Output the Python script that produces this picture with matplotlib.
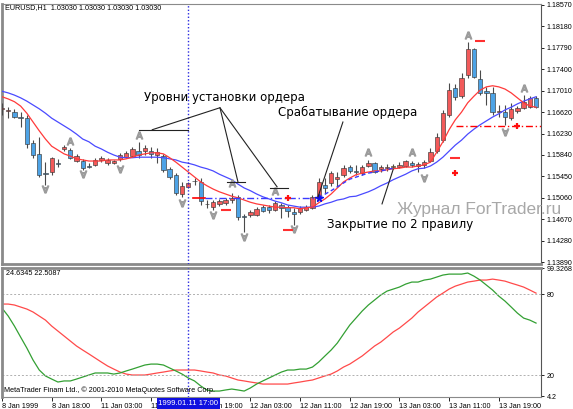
import numpy as np
import matplotlib
matplotlib.use("Agg")
import matplotlib.pyplot as plt
import matplotlib.transforms as mtransforms

# ---- EURUSD H1 bars, 8 Jan 1999 10:00 .. 14 Jan 1999 ----
opens = [1.1668, 1.1664, 1.1662, 1.1653, 1.1651, 1.1606, 1.1586, 1.1551, 1.1553, 1.1569,
         1.1595, 1.1593, 1.1573, 1.1573, 1.1564, 1.1566, 1.1575, 1.1569, 1.1569, 1.1577,
         1.1580, 1.1582, 1.1591, 1.1591, 1.1591, 1.1584, 1.1582, 1.1559, 1.1548, 1.1513,
         1.1526, 1.1537, 1.1535, 1.1495, 1.1489, 1.1495, 1.1497, 1.1502, 1.1508, 1.1473,
         1.1475, 1.1475, 1.1489, 1.1489, 1.1484, 1.1493, 1.1489, 1.1480, 1.1480, 1.1484,
         1.1488, 1.1508, 1.1529, 1.1533, 1.1540, 1.1548, 1.1562, 1.1555, 1.1551, 1.1564,
         1.1569, 1.1558, 1.1560, 1.1562, 1.1562, 1.1564, 1.1569, 1.1564, 1.1566, 1.1573,
         1.1591, 1.1611, 1.1657, 1.1706, 1.1691, 1.1730, 1.1777, 1.1722, 1.1701, 1.1697,
         1.1662, 1.1662, 1.1651, 1.1664, 1.1670, 1.1671, 1.1688]
highs = [1.1679, 1.1671, 1.1668, 1.1662, 1.1657, 1.1611, 1.1617, 1.1571, 1.1580, 1.1577,
         1.1602, 1.1597, 1.1586, 1.1577, 1.1569, 1.1579, 1.1582, 1.1579, 1.1575, 1.1588,
         1.1591, 1.1599, 1.1608, 1.1602, 1.1599, 1.1597, 1.1586, 1.1562, 1.1551, 1.1535,
         1.1535, 1.1542, 1.1542, 1.1502, 1.1502, 1.1504, 1.1506, 1.1515, 1.1511, 1.1477,
         1.1484, 1.1489, 1.1493, 1.1493, 1.1500, 1.1497, 1.1493, 1.1488, 1.1491, 1.1493,
         1.1511, 1.1542, 1.1542, 1.1555, 1.1553, 1.1566, 1.1566, 1.1566, 1.1566, 1.1575,
         1.1571, 1.1566, 1.1568, 1.1568, 1.1571, 1.1575, 1.1573, 1.1571, 1.1575, 1.1597,
         1.1624, 1.1666, 1.1715, 1.1713, 1.1733, 1.1790, 1.1779, 1.1739, 1.1708, 1.1708,
         1.1675, 1.1675, 1.1679, 1.1673, 1.1693, 1.1691, 1.1691]
lows = [1.1657, 1.1651, 1.1651, 1.1635, 1.1597, 1.1579, 1.1544, 1.1529, 1.1548, 1.1562,
        1.1591, 1.1577, 1.1571, 1.1557, 1.1560, 1.1564, 1.1571, 1.1566, 1.1568, 1.1573,
        1.1579, 1.1580, 1.1579, 1.1584, 1.1579, 1.1569, 1.1553, 1.1540, 1.1511, 1.1508,
        1.1524, 1.1529, 1.1493, 1.1488, 1.1484, 1.1491, 1.1493, 1.1497, 1.1466, 1.1443,
        1.1471, 1.1473, 1.1480, 1.1478, 1.1482, 1.1469, 1.1471, 1.1457, 1.1477, 1.1482,
        1.1486, 1.1506, 1.1515, 1.1528, 1.1526, 1.1544, 1.1551, 1.1548, 1.1548, 1.1562,
        1.1551, 1.1553, 1.1555, 1.1560, 1.1560, 1.1562, 1.1562, 1.1553, 1.1560, 1.1571,
        1.1588, 1.1608, 1.1653, 1.1684, 1.1688, 1.1724, 1.1724, 1.1693, 1.1675, 1.1657,
        1.1653, 1.1639, 1.1648, 1.1661, 1.1668, 1.1670, 1.1670]
closes = [1.1670, 1.1666, 1.1653, 1.1651, 1.1604, 1.1584, 1.1548, 1.1549, 1.1579, 1.1568,
          1.1599, 1.1579, 1.1582, 1.1560, 1.1563, 1.1575, 1.1579, 1.1575, 1.1573, 1.1584,
          1.1588, 1.1595, 1.1584, 1.1597, 1.1586, 1.1589, 1.1557, 1.1544, 1.1515, 1.1528,
          1.1533, 1.1536, 1.1500, 1.1494, 1.1498, 1.1500, 1.1502, 1.1506, 1.1471, 1.1472,
          1.1480, 1.1486, 1.1482, 1.1484, 1.1497, 1.1488, 1.1482, 1.1477, 1.1488, 1.1489,
          1.1508, 1.1535, 1.1524, 1.1551, 1.1544, 1.1560, 1.1555, 1.1553, 1.1562, 1.1569,
          1.1553, 1.1562, 1.1562, 1.1564, 1.1566, 1.1573, 1.1566, 1.1568, 1.1571, 1.1589,
          1.1617, 1.1660, 1.1702, 1.1690, 1.1724, 1.1777, 1.1726, 1.1697, 1.1697, 1.1662,
          1.1664, 1.1653, 1.1668, 1.1670, 1.1681, 1.1688, 1.1671]

# moving averages
ma_fast = [1.1690, 1.1686, 1.1681, 1.1673, 1.1660, 1.1644, 1.1628, 1.1613, 1.1600, 1.1593,
           1.1586, 1.1582, 1.1577, 1.1575, 1.1573, 1.1573, 1.1573, 1.1575, 1.1575, 1.1575,
           1.1577, 1.1580, 1.1584, 1.1586, 1.1588, 1.1588, 1.1586, 1.1579, 1.1571, 1.1562,
           1.1553, 1.1544, 1.1535, 1.1528, 1.1522, 1.1517, 1.1513, 1.1509, 1.1506, 1.1502,
           1.1498, 1.1495, 1.1493, 1.1491, 1.1489, 1.1489, 1.1488, 1.1488, 1.1486, 1.1488,
           1.1489, 1.1497, 1.1504, 1.1513, 1.1524, 1.1535, 1.1542, 1.1548, 1.1551, 1.1553,
           1.1555, 1.1555, 1.1557, 1.1559, 1.1560, 1.1562, 1.1562, 1.1564, 1.1566, 1.1571,
           1.1589, 1.1608, 1.1630, 1.1648, 1.1662, 1.1679, 1.1691, 1.1702, 1.1708, 1.1710,
           1.1708, 1.1704, 1.1697, 1.1688, 1.1679, 1.1673, 1.1671]
ma_slow = [1.1700, 1.1697, 1.1693, 1.1688, 1.1682, 1.1675, 1.1668, 1.1660, 1.1651, 1.1644,
           1.1637, 1.1630, 1.1622, 1.1613, 1.1608, 1.1600, 1.1595, 1.1589, 1.1584, 1.1580,
           1.1579, 1.1579, 1.1580, 1.1580, 1.1580, 1.1580, 1.1579, 1.1577, 1.1575, 1.1571,
           1.1569, 1.1566, 1.1562, 1.1559, 1.1555, 1.1549, 1.1544, 1.1539, 1.1531, 1.1524,
           1.1519, 1.1513, 1.1508, 1.1504, 1.1500, 1.1497, 1.1493, 1.1491, 1.1489, 1.1489,
           1.1489, 1.1491, 1.1495, 1.1498, 1.1502, 1.1504, 1.1508, 1.1509, 1.1513, 1.1517,
           1.1522, 1.1528, 1.1533, 1.1539, 1.1544, 1.1549, 1.1555, 1.1559, 1.1560, 1.1564,
           1.1571, 1.1580, 1.1591, 1.1602, 1.1611, 1.1622, 1.1631, 1.1639, 1.1646, 1.1653,
           1.1659, 1.1666, 1.1671, 1.1677, 1.1682, 1.1686, 1.1690]

# stochastic oscillator
stoch_main = [69.6, 63.7, 56.3, 48.1, 40.0, 31.1, 23.7, 19.3, 17.0, 14.8,
              15.6, 15.6, 17.0, 18.5, 20.0, 21.5, 21.5, 21.5, 20.7, 21.5,
              23.0, 24.4, 25.9, 27.4, 28.1, 28.1, 27.4, 25.2, 23.0, 20.7,
              17.8, 15.6, 11.9, 8.9, 8.1, 8.1, 8.9, 9.6, 8.9, 8.1,
              10.4, 13.3, 15.6, 17.8, 20.0, 22.2, 23.7, 23.7, 24.4, 24.4,
              25.9, 29.6, 34.1, 38.5, 43.7, 50.4, 57.0, 62.2, 67.4, 71.9,
              75.6, 79.3, 82.2, 83.7, 85.2, 87.4, 88.9, 88.9, 90.4, 91.1,
              92.6, 94.1, 94.8, 94.8, 94.8, 95.6, 93.3, 90.4, 86.7, 83.0,
              78.5, 74.8, 70.4, 65.9, 62.2, 60.7, 58.5]
stoch_signal = [72.6, 72.6, 71.9, 70.4, 68.9, 66.7, 63.7, 60.7, 56.3, 52.6,
                48.9, 45.2, 41.5, 38.5, 35.6, 32.6, 29.6, 26.7, 24.4, 22.2,
                20.7, 20.0, 20.0, 20.0, 20.7, 21.5, 22.2, 23.0, 23.7, 23.7,
                23.7, 23.7, 23.0, 22.2, 21.5, 20.0, 19.3, 17.8, 16.3, 15.6,
                14.8, 14.1, 13.3, 13.3, 13.3, 13.3, 13.3, 14.1, 14.8, 15.6,
                16.3, 17.8, 19.3, 20.7, 23.0, 25.9, 28.1, 31.1, 34.1, 37.8,
                41.5, 44.4, 48.1, 51.9, 54.8, 58.5, 62.2, 66.7, 70.4, 74.1,
                77.8, 80.7, 83.7, 85.9, 87.4, 88.9, 89.6, 90.4, 90.4, 91.1,
                90.4, 89.6, 88.1, 86.7, 85.2, 83.0, 80.7]

# fractals
fractal_up_bars = [11, 22, 37, 44, 59, 66, 75, 84]
fractal_up_prices = [1.1610, 1.1620, 1.1533, 1.1519, 1.1590, 1.1590, 1.1802, 1.1706]
fractal_dn_bars = [7, 13, 19, 29, 34, 39, 47, 68, 81]
fractal_dn_prices = [1.1522, 1.1549, 1.1559, 1.1497, 1.1475, 1.1435, 1.1449, 1.1542, 1.1626]

# expert advisor marks
stop_bars = [36, 46, 73, 77]
stop_prices = [1.1484, 1.1448, 1.1579, 1.1791]
plus_bars = [46, 73, 83]
plus_prices = [1.1506, 1.1551, 1.1636]
entry_level = 1.1506
entry_start, entry_fill = 30.7, 51
exit_level = 1.1636
exit_start = 73.1
trail_bars = [51, 53, 56, 59, 61, 63]
trail_prices = [1.1506, 1.1519, 1.1540, 1.1551, 1.1555, 1.1560]
close_bar = 63
cursor_bar = 30

price_ticks = [1.18570, 1.18180, 1.17790, 1.17400, 1.17010, 1.16620, 1.16230,
               1.15840, 1.15450, 1.15060, 1.14670, 1.14280, 1.13890]
stoch_ticks = [99.3268, 80, 20, 4.2]
stoch_tick_labels = ["99.3268", "80", "20", "4.2"]
time_labels = ["8 Jan 1999", "8 Jan 18:00", "11 Jan 03:00", "11 Jan 11:00", "11 Jan 19:00",
               "12 Jan 03:00", "12 Jan 11:00", "12 Jan 19:00", "13 Jan 03:00",
               "13 Jan 11:00", "13 Jan 19:00"]
bars_per_label = 8

RED_BODY = "#f25a5a"
BLUE_BODY = "#4da3e6"
EDGE = "#3a3a3a"
FRAME = "#8a8a8a"
SMALL = dict(family="Liberation Sans", fontsize=5.2)

W, H = 573, 409
fig = plt.figure(figsize=(W / 100, H / 100), dpi=100)
fig.patch.set_facecolor("white")

ax = fig.add_axes([2 / W, 1 - 264 / H, 539 / W, 260 / H])
ax2 = fig.add_axes([2 / W, 1 - 397 / H, 539 / W, 129 / H])

n = len(closes)
x = np.arange(n)
o = np.array(opens)
c = np.array(closes)
h = np.array(highs)
l = np.array(lows)

# ---- candles ----
ax.vlines(x, l, h, color="#4a4a4a", lw=0.8, zorder=3)
colors = [RED_BODY if cc >= oo else BLUE_BODY for oo, cc in zip(o, c)]
colors[close_bar] = "#ffa21a"
body_lo = np.minimum(o, c)
body_h = np.maximum(np.abs(c - o), 0.00004)
ax.bar(x, body_h, bottom=body_lo, width=0.7, color=colors, edgecolor=EDGE,
       linewidth=0.45, zorder=4)

ax.plot(x, ma_slow, color="#4a4aff", lw=0.9, zorder=5)
ax.plot(x, ma_fast, color="#ff3a3a", lw=0.9, zorder=5)

# fractals
ax.plot(fractal_up_bars, fractal_up_prices, ls="none", marker=r"$\mathrm{A}$",
        ms=5, color="#9c9c9c", zorder=6)
ax.plot(fractal_dn_bars, fractal_dn_prices, ls="none", marker=r"$\forall$",
        ms=5, color="#9c9c9c", zorder=6)

# order levels
ax.plot([entry_start, entry_start + 2], [entry_level, entry_level], color="red", lw=1.2, zorder=6)
ax.plot([entry_start + 2, entry_fill], [entry_level, entry_level], color="#3a3aff",
        lw=1.0, ls=(0, (5, 2, 1, 2)), zorder=6)
ax.plot([exit_start, n + 1], [exit_level, exit_level], color="red", lw=1.0,
        ls=(0, (5, 2, 1, 2)), zorder=6)
ax.plot(trail_bars, trail_prices, color="#3a3aff", lw=1.0, ls=(0, (3, 2)), zorder=6)
ax.plot(stop_bars, stop_prices, ls="none", marker="_", ms=7, mew=1.5, color="#ff3030", zorder=7)
ax.plot(plus_bars, plus_prices, ls="none", marker="+", ms=4.5, mew=1.6, color="#ff1010", zorder=7)
ax.plot([entry_fill], [entry_level], ls="none", marker="*", ms=5.5, color="#1010ee", zorder=7)

# annotations
ann = dict(color="#222222", lw=0.8, zorder=8)
ax.plot([22, 30], [1.1630, 1.1630], **ann)
ax.plot([36.2, 39.1], [1.1535, 1.1535], **ann)
ax.plot([43.2, 46.1], [1.1524, 1.1524], **ann)
ax.plot([24.2, 35.1, 38.0], [1.1630, 1.1670, 1.1535], **ann)
ax.plot([35.1, 44.3], [1.1670, 1.1526], **ann)
ax.plot([54.9, 50.9], [1.1644, 1.1508], **ann)
ax.plot([63.0, 61.2], [1.1558, 1.1495], **ann)

txt = dict(family="DejaVu Sans", fontsize=8.5, color="black", va="center", ha="left", zorder=9)
ax.text(22.9, 1.1688, "Уровни установки ордера", **txt)
ax.text(44.4, 1.1662, "Срабатывание ордера", **txt)
ax.text(52.3, 1.1458, "Закрытие по 2 правилу", **txt)
ax.text(63.6, 1.1484, "Журнал ForTrader.ru", family="Liberation Sans", fontsize=12.5,
        color="#a8a8a8", va="center", ha="left", zorder=9)
ax.text(0.006, 0.985, "EURUSD,H1  1.03030 1.03030 1.03030 1.03030", transform=ax.transAxes,
        va="center", ha="left", **SMALL)

ax.set_xlim(0, 86.8)
ax.set_ylim(1.13856, 1.18588)
ax.set_yticks(price_ticks)
ax.set_yticklabels([f"{p:.5f}" for p in price_ticks])
ax.set_xticks([])

# ---- stochastic ----
ax2.plot(x, stoch_signal, color="#ff4a4a", lw=0.9)
ax2.plot(x, stoch_main, color="#33a033", lw=0.9)
for lvl in (80, 20):
    ax2.axhline(lvl, color="#b0b0b0", lw=0.7, ls=(0, (2, 2)))
ax2.set_xlim(0, 86.8)
ax2.set_ylim(3.7, 99.33)
ax2.set_yticks(stoch_ticks)
ax2.set_yticklabels(stoch_tick_labels)
ax2.text(0.008, 0.955, "24.6345 22.5087", transform=ax2.transAxes, va="center", ha="left", **SMALL)
ax2.text(0.004, 0.05, "MetaTrader Finam Ltd., © 2001-2010 MetaQuotes Software Corp.",
         transform=ax2.transAxes, va="center", ha="left", **SMALL)

tick_pos = [i * bars_per_label for i in range(len(time_labels))]
ax2.set_xticks(tick_pos)
ax2.set_xticklabels(time_labels)
for lab in ax2.get_xticklabels():
    lab.set_horizontalalignment("left")

for a in (ax, ax2):
    a.axvline(cursor_bar, color="#2a2ae0", lw=1.0, ls=(0, (1, 1.5)), zorder=7)
    a.yaxis.tick_right()
    a.tick_params(axis="y", length=2.5, width=0.6, pad=1.5, labelsize=5.1)
    a.tick_params(axis="x", length=3, width=0.6, pad=1.5, labelsize=5.2)
    for lab in a.get_yticklabels() + a.get_xticklabels():
        lab.set_family("Liberation Sans")
    for side in ("top", "left", "bottom"):
        a.spines[side].set_color(FRAME)
    a.spines["right"].set_color("#555555")
    a.spines["left"].set_linewidth(2)
    a.set_facecolor("white")
ax.spines["bottom"].set_linewidth(2)
ax2.spines["top"].set_linewidth(2)

# cursor time label (covers the neighbouring tick labels, as in the terminal)
tr = mtransforms.blended_transform_factory(ax2.transData, fig.transFigure)
ax2.text(cursor_bar, 1 - 403.5 / H, "1999.01.11 17:00", transform=tr, ha="center", va="center",
         color="white", family="Liberation Sans", fontsize=5.6, zorder=20,
         bbox=dict(facecolor="#1010e0", edgecolor="none", pad=1.2))

fig.savefig("out.png", dpi=100)
